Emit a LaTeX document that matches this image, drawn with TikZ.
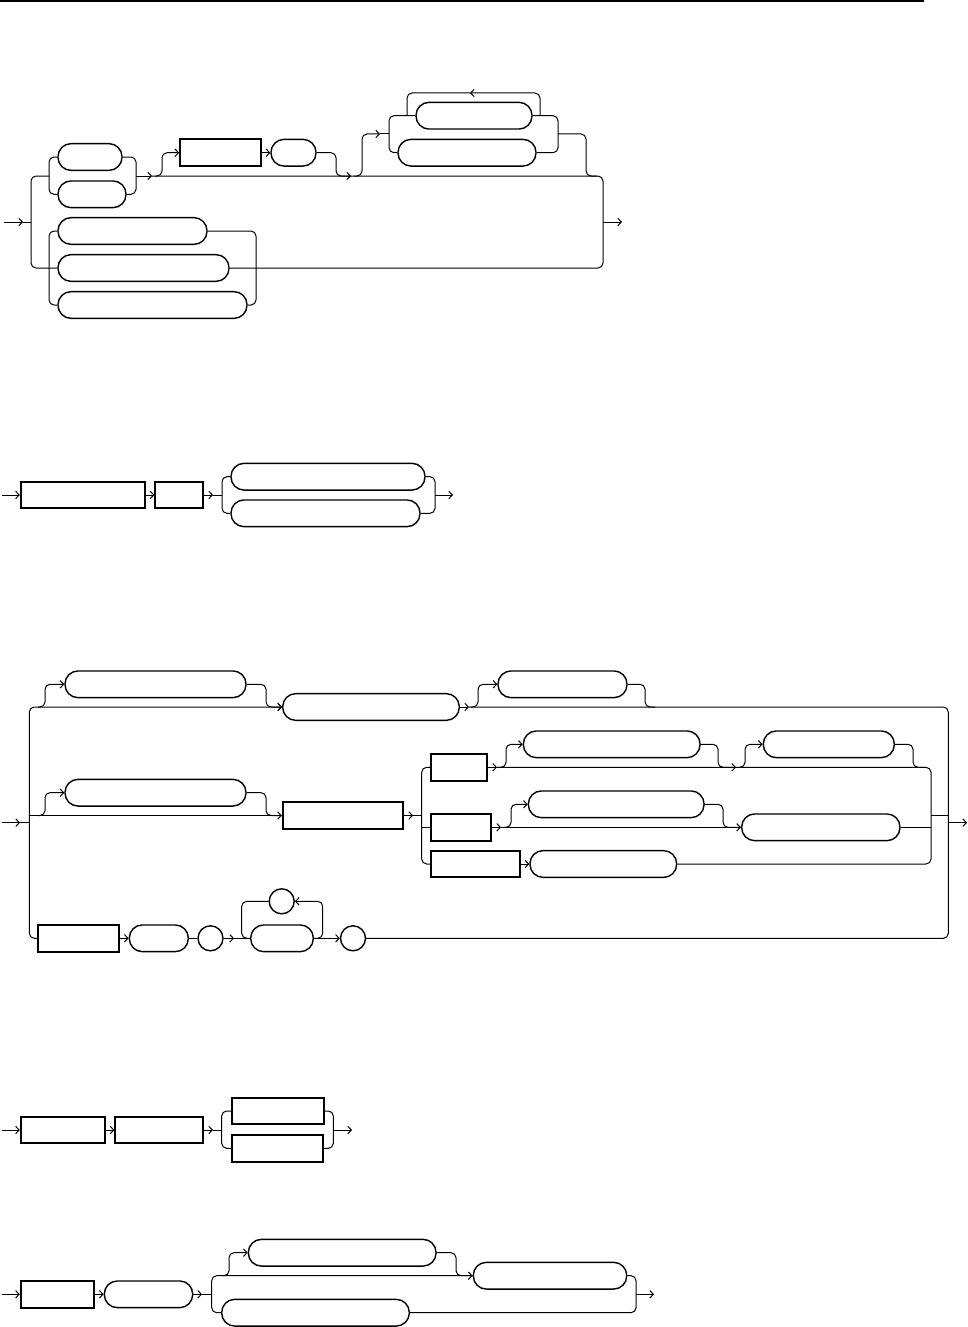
\documentclass[tikz,border=0pt]{standalone}
\usepackage{tikz}
\usetikzlibrary{arrows.meta,positioning,calc}
\tikzset{
  base/.style={draw=black, inner sep=0pt, minimum height=26.7pt, line width=1.4pt},
  term/.style={base, rounded corners=13pt},
  nterm/.style={base, line width=1.8pt},
  dot/.style={base, circle, minimum size=25pt},
  rail/.style={line width=1pt, rounded corners=5pt},
  arr/.style={rail, -{Straight Barb[length=3.5pt,width=7.5pt]}},
}
\begin{document}
\begin{tikzpicture}[x=1pt,y=-1pt]
    \useasboundingbox (0,0) rectangle (968,1327);
    \draw[line width=1.2pt] (0,1) -- (924,1);
    \foreach \n/\x/\y/\w in {d1a/90/157/64, d1b/92/194.3/68, d1d/293.5/152.7/45, d1e/474/115.7/116, d1f/467/152.7/138,
        d1g/132.5/231/149, d1h/143.5/268/171, d1i/152.5/305/189,
        d2c/328/476.7/194, d2d/325.5/513.3/189,
        d3a/155.5/684.3/181, d3b/371/707/176.6, d3c/562.5/684.3/129, d3e/155.5/792.7/181,
        d3g/611.7/744.3/176.7, d3h/828.8/744.3/131, d3j/616.2/804.3/175.7, d3k/820.8/827.3/158.3,
        d3m/603.3/864/146.7, d3o/158.8/938.3/59, d3r/282/938.3/62.6,
        d5b/148.5/1294.3/88.4, d5u/342.2/1252.7/187.7, d5v/550/1275.7/153.4, d5w/315.5/1312.7/187.6}
      \node[term, minimum width=\w] (\n) at (\x,\y) {};
    \foreach \n/\x/\y/\w in {d1c/220.5/152.7/81, d2a/83/495/124.6, d2b/179.3/495/48,
        d3d/342.7/815.5/120, d3f/458.7/767.3/56, d3i/460.7/827.3/60, d3l/475.3/864/89.3, d3n/78.8/938.3/81,
        d4a/63/1130/84.6, d4b/159.3/1130/88, d4c/277.8/1111/92.3, d4d/277.5/1148.3/91.6, d5a/57.5/1294.3/73.6}
      \node[nterm, minimum width=\w] (\n) at (\x,\y) {};
    \foreach \n/\x/\y in {d3p/210.5/938.3, d3q/281.7/901.3, d3s/353/938.3}
      \node[dot] (\n) at (\x,\y) {};

    % first rule
    \coordinate (d1sp) at (31,222);
    \coordinate (d1jn) at (603,222);
    \draw[arr] (4,222) -- (23,222);
    \draw[rail] (23,222) -- (d1sp);
    \draw[rail] (49,176) -| (d1sp) |- (d1h.west);
    \draw[rail] (d1a.west) -| (49,176) |- (d1b.west);
    \draw[rail] (d1a.east) -| (136,176) |- (d1b.east);
    \draw[arr] (136,176) -- (152,176);
    \draw[rail] (152,176) -| (d1jn) |- (d1h.east);
    \draw[arr] (d1jn) -- (622,222);
    \draw[rail] (d1g.west) -| (49,268) |- (d1i.west);
    \draw[rail] (d1g.east) -| (256,268) |- (d1i.east);
    \draw[arr] (155,176) -| (162,152.7) -- (d1c.west);
    \draw[arr] (d1c.east) -- (d1d.west);
    \draw[arr] (d1d.east) -| (336,176) -- (351,176);
    \draw[arr] (354,176) -| (362,134) -- (380,134);
    \draw[rail] (380,134) -- (389,134);
    \draw[rail] (d1e.west) -| (389,134) |- (d1f.west);
    \draw[rail] (d1e.east) -| (558,134) |- (d1f.east);
    \draw[arr] (540,115.7) |- (470,93);
    \draw[rail] (470,93) -| (407,115.7);
    \draw[rail] (558,134) -| (586,176) -- (597,176);

    % second rule
    \draw[arr] (2,495) -- (d2a.west);
    \draw[arr] (d2a.east) -- (d2b.west);
    \draw[arr] (d2b.east) -- (213,495);
    \draw[rail] (213,495) -- (222,495);
    \draw[rail] (d2c.west) -| (222,495) |- (d2d.west);
    \draw[rail] (d2c.east) -| (435,495) |- (d2d.east);
    \draw[arr] (435,495) -- (453,495);

    % third rule
    \coordinate (d3jn) at (948.3,822.7);
    \draw[arr] (2,822.7) -- (20,822.7);
    \draw[rail] (20,822.7) -- (29.3,822.7);
    \draw[arr] (d3n.west) -| (29.3,707) -- (d3b.west);
    \draw[arr] (38,707) -| (45,684.3) -- (d3a.west);
    \draw[arr] (d3a.east) -| (266,707) -- (d3b.west);
    \draw[arr] (d3b.east) -- (469,707);
    \draw[arr] (471,707) -| (478,684.3) -- (d3c.west);
    \draw[rail] (d3c.east) -| (645,707) -- (655,707);
    \draw[rail] (469,707) -| (d3jn) |- (d3s.east);
    \draw[arr] (d3jn) -- (967,822.7);
    \draw[arr] (29.3,815.5) -- (d3d.west);
    \draw[arr] (38,815.5) -| (45,792.7) -- (d3e.west);
    \draw[rail] (d3e.east) -| (266,815.5) -- (d3d.west);
    \draw[arr] (d3d.east) -- (413,815.5);
    \draw[rail] (413,815.5) -- (421.7,815.5);
    \draw[rail] (d3f.west) -| (421.7,815.5) |- (d3l.west);
    \draw[rail] (421.7,827.3) -- (d3i.west);
    \draw[arr] (d3f.east) -- (497,767.3);
    \draw[rail] (497,767.3) -| (931,815.5) |- (d3m.east);
    \draw[arr] (499,767.3) -| (506,744.3) -- (d3g.west);
    \draw[arr] (d3g.east) -| (718,767.3) -- (736,767.3);
    \draw[arr] (738,767.3) -| (745,744.3) -- (d3h.west);
    \draw[rail] (d3h.east) -| (913,767.3) -- (925,767.3);
    \draw[arr] (d3i.east) -- (501,827.3);
    \draw[arr] (501,827.3) -- (d3k.west);
    \draw[arr] (504,827.3) -| (511,804.3) -- (d3j.west);
    \draw[rail] (d3j.east) -| (723,827.3) -- (d3k.west);
    \draw[rail] (d3k.east) -- (931,827.3);
    \draw[arr] (d3l.east) -- (d3m.west);
    \draw[rail] (931,815.5) -- (948.3,815.5);
    \draw[arr] (d3n.east) -- (d3o.west);
    \draw[rail] (d3o.east) -- (d3p.west);
    \draw[arr] (d3p.east) -- (234,938.3);
    \draw[rail] (234,938.3) -- (d3r.west);
    \draw[arr] (d3r.east) -| (322.7,901.3) -- (d3q.east);
    \draw[rail] (d3q.west) -| (241.7,938.3) -- (d3r.west);
    \draw[arr] (d3r.east) -- (d3s.west);

    % fourth rule
    \draw[arr] (2,1130) -- (d4a.west);
    \draw[arr] (d4a.east) -- (d4b.west);
    \draw[arr] (d4b.east) -- (213,1130);
    \draw[rail] (213,1130) -- (221.7,1130);
    \draw[rail] (d4c.west) -| (221.7,1130) |- (d4d.west);
    \draw[rail] (d4c.east) -| (333.3,1130) |- (d4d.east);
    \draw[arr] (333.3,1130) -- (352,1130);

    % fifth rule
    \draw[arr] (2,1294.3) -- (d5a.west);
    \draw[arr] (d5a.east) -- (d5b.west);
    \draw[arr] (d5b.east) -- (202,1294.3);
    \draw[rail] (202,1294.3) -- (211.7,1294.3);
    \draw[arr] (d5w.west) -| (211.7,1294.3) |- (d5v.west);
    \draw[arr] (222,1275.7) -| (229,1252.7) -- (d5u.west);
    \draw[rail] (d5u.east) -| (456,1275.7) -- (d5v.west);
    \draw[rail] (d5v.east) -| (636,1294.3) |- (d5w.east);
    \draw[arr] (636,1294.3) -- (654,1294.3);
\end{tikzpicture}
\end{document}
